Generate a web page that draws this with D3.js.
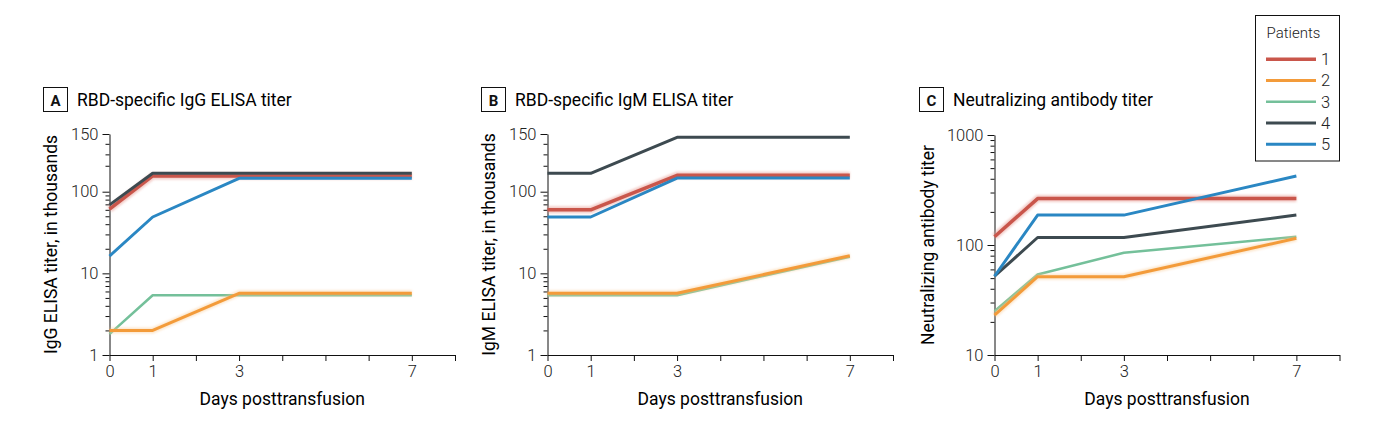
<!DOCTYPE html>
<html>
<head>
<meta charset="utf-8">
<script src="https://cdn.jsdelivr.net/npm/d3@7"></script>
<style>
  html, body { margin: 0; padding: 0; background: #fff; }
  svg { display: block; }
  .tick text { font-family: Roboto, "Open Sans", sans-serif; font-weight: 300; fill: #222; }
</style>
</head>
<body>
<svg id="chart" width="1384" height="439"></svg>
<script>
// ---------------- DATA ----------------
const days = [0, 1, 3, 7];
const patients = ["1", "2", "3", "4", "5"];

// Panel A: RBD-specific IgG ELISA titer (thousands), one row per patient
const igGTiter = [
  [61, 111.7, 111.7, 111.7],
  [2.0, 2.0, 5.7, 5.7],
  [1.8, 5.4, 5.4, 5.4],
  [69, 113.8, 113.8, 113.8],
  [16.3, 49, 109.9, 109.9]
];
// Panel B: RBD-specific IgM ELISA titer (thousands)
const igMTiter = [
  [60, 60, 112.2, 112.2],
  [5.7, 5.7, 5.7, 16.4],
  [5.4, 5.4, 5.4, 16.0],
  [113.8, 113.8, 146.6, 146.6],
  [49, 49, 110.1, 110.1]
];
// Panel C: Neutralizing antibody titer
const neutTiter = [
  [119, 264, 264, 264],
  [23, 51.5, 51.5, 115],
  [25, 54, 85, 119],
  [52, 117, 117, 187],
  [52, 187, 187, 424]
];

const xTickValues = [0, 1, 2, 3, 4, 5, 6, 7, 8];
const xTickLabels = ["0", "1", "", "3", "", "", "", "7", ""];

const yMajorAB = [1, 10, 100, 150];
const yMajorLabelsAB = ["1", "10", "100", "150"];
const yMinorAB = [2, 3, 4, 5, 6, 7, 8, 9, 20, 30, 40, 50, 60, 70, 80, 90, 120, 130, 140];

const yMajorC = [10, 100, 1000];
const yMajorLabelsC = ["10", "100", "1000"];
const yMinorC = [20, 30, 40, 50, 60, 70, 80, 90, 200, 300, 400, 500, 600, 700, 800, 900];

const panelLetters = ["A", "B", "C"];
const panelTitles = ["RBD-specific IgG ELISA titer", "RBD-specific IgM ELISA titer", "Neutralizing antibody titer"];
const yTitles = ["IgG ELISA titer, in thousands", "IgM ELISA titer, in thousands", "Neutralizing antibody titer"];
const xTitle = "Days posttransfusion";
const legendTitle = "Patients";

// ---------------- STYLE ----------------
const colors = ["#c9564b", "#f39b3a", "#74c09a", "#3d4a50", "#2a87c3"];
const widths = [3.5, 3, 2.5, 3, 3];
const halo = [{c: "#e89a92", w: 7, o: 0.5}, {c: "#f8c78f", w: 6, o: 0.45}, null, null, null];
const drawOrder = [0, 2, 1, 3, 4];
const FONT = "Roboto, 'Open Sans', sans-serif";

const svg = d3.select("#chart");
const defs = svg.append("defs");
defs.append("filter").attr("id", "blur").attr("x", "-10%").attr("y", "-50%").attr("width", "120%").attr("height", "200%")
  .append("feGaussianBlur").attr("stdDeviation", 1.3);

const panels = [
  { data: igGTiter, x0: 109.5, x1: 455, y: d3.scaleLog().domain([1, 100, 150]).range([355, 191.7, 134]),
    major: yMajorAB, majorLabels: yMajorLabelsAB, minor: yMinorAB, box: [43.5, 87.5], title: [77, 106], yTitleX: 57 },
  { data: igMTiter, x0: 547.5, x1: 893, y: d3.scaleLog().domain([1, 100, 150]).range([355, 191.7, 134]),
    major: yMajorAB, majorLabels: yMajorLabelsAB, minor: yMinorAB, box: [481.5, 87.5], title: [515, 106], yTitleX: 495 },
  { data: neutTiter, x0: 994.5, x1: 1339.5, y: d3.scaleLog().domain([10, 1000]).range([355, 135]),
    major: yMajorC, majorLabels: yMajorLabelsC, minor: yMinorC, box: [919.5, 87.5], title: [953, 106], yTitleX: 934 }
];

panels.forEach((p, i) => {
  const g = svg.append("g");
  const x = d3.scaleLinear().domain([0, 8]).range([p.x0, p.x1]);
  const y = p.y;
  const yBottom = y.range()[0];

  // minor y ticks
  g.append("g").attr("transform", `translate(${p.x0},0)`)
    .call(d3.axisLeft(y).tickValues(p.minor).tickSize(4).tickSizeOuter(0).tickFormat(""))
    .call(s => s.select(".domain").remove())
    .call(s => s.selectAll("line").attr("stroke", "#111"));
  // major y ticks
  g.append("g").attr("transform", `translate(${p.x0},0)`)
    .call(d3.axisLeft(y).tickValues(p.major).tickSize(7).tickPadding(4).tickSizeOuter(0)
      .tickFormat((d, k) => p.majorLabels[k]))
    .call(s => s.select(".domain").attr("stroke", "#111"))
    .call(s => s.selectAll("line").attr("stroke", "#111"))
    .call(s => s.selectAll("text").attr("font-size", 16.5).attr("font-family", FONT));

  // x axis
  g.append("g").attr("transform", `translate(0,${yBottom})`)
    .call(d3.axisBottom(x).tickValues(xTickValues).tickSize(6).tickPadding(4).tickSizeOuter(0)
      .tickFormat((d, k) => xTickLabels[k]))
    .call(s => s.select(".domain").attr("stroke", "#111"))
    .call(s => s.selectAll("line").attr("stroke", "#111"))
    .call(s => s.selectAll("text").attr("font-size", 16.5).attr("font-family", FONT));

  // lines
  const line = d3.line().x((d, k) => x(days[k])).y(d => y(d));
  drawOrder.forEach(j => {
    if (halo[j]) {
      g.append("path").datum(p.data[j]).attr("d", line).attr("fill", "none")
        .attr("stroke", halo[j].c).attr("stroke-width", halo[j].w).attr("stroke-opacity", halo[j].o)
        .attr("filter", "url(#blur)");
    }
    g.append("path").datum(p.data[j]).attr("d", line).attr("fill", "none")
      .attr("stroke", colors[j]).attr("stroke-width", widths[j])
      .attr("stroke-linejoin", "round").attr("stroke-linecap", "butt");
  });

  // panel letter box and title
  g.append("rect").attr("x", p.box[0]).attr("y", p.box[1]).attr("width", 24).attr("height", 24)
    .attr("fill", "#fff").attr("stroke", "#111").attr("stroke-width", 1);
  g.append("text").attr("x", p.box[0] + 12).attr("y", p.box[1] + 18).attr("text-anchor", "middle")
    .attr("font-family", FONT).attr("font-weight", 700).attr("font-size", 15).attr("fill", "#111")
    .text(panelLetters[i]);
  g.append("text").attr("x", p.title[0]).attr("y", p.title[1])
    .attr("font-family", FONT).attr("font-weight", 400).attr("font-size", 17.5).attr("fill", "#000")
    .text(panelTitles[i]);

  // axis titles
  g.append("text").attr("x", (p.x0 + p.x1) / 2).attr("y", 405).attr("text-anchor", "middle")
    .attr("font-family", FONT).attr("font-weight", 400).attr("font-size", 17.5).attr("fill", "#000")
    .text(xTitle);
  g.append("text").attr("transform", `translate(${p.yTitleX},${(y.range()[0] + y.range()[y.range().length - 1]) / 2}) rotate(-90)`)
    .attr("text-anchor", "middle")
    .attr("font-family", FONT).attr("font-weight", 400).attr("font-size", 17.5).attr("fill", "#000")
    .text(yTitles[i]);
});

// legend
const lg = svg.append("g");
lg.append("rect").attr("x", 1255.5).attr("y", 15.5).attr("width", 84).attr("height", 145.5)
  .attr("fill", "#fff").attr("stroke", "#111").attr("stroke-width", 1);
lg.append("text").attr("x", 1266.5).attr("y", 38).attr("font-family", FONT).attr("font-weight", 300)
  .attr("font-size", 15).attr("fill", "#222").text(legendTitle);
const ly = d3.scalePoint().domain(patients).range([59.3, 144.3]);
patients.forEach((pt, j) => {
  if (halo[j]) {
    lg.append("line").attr("x1", 1266).attr("x2", 1316).attr("y1", ly(pt)).attr("y2", ly(pt))
      .attr("stroke", halo[j].c).attr("stroke-width", halo[j].w).attr("stroke-opacity", halo[j].o)
      .attr("filter", "url(#blur)");
  }
  lg.append("line").attr("x1", 1266).attr("x2", 1316).attr("y1", ly(pt)).attr("y2", ly(pt))
    .attr("stroke", colors[j]).attr("stroke-width", widths[j]);
  lg.append("text").attr("x", 1321).attr("y", ly(pt)).attr("dy", "0.36em")
    .attr("font-family", FONT).attr("font-weight", 300).attr("font-size", 16.5).attr("fill", "#222").text(pt);
});
</script>
</body>
</html>
